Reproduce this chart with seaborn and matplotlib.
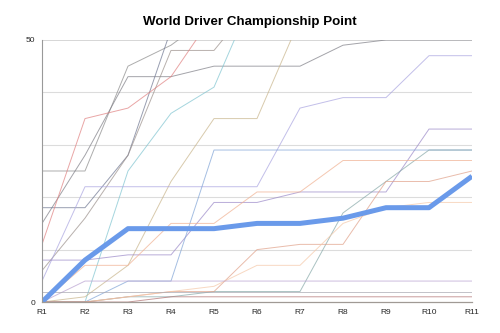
import matplotlib
matplotlib.use("Agg")
import matplotlib.pyplot as plt
import seaborn as sns
import pandas as pd

rounds = ["R1", "R2", "R3", "R4", "R5", "R6", "R7", "R8", "R9", "R10", "R11"]

highlight = [0, 8, 14, 14, 14, 15, 15, 16, 18, 18, 24]

d_gray_a = [25, 25, 45, 49, 55, 61, 67, 73, 79, 85, 91]
d_gray_b = [15, 28, 43, 43, 45, 45, 45, 49, 50, 50, 50]
d_slate = [18, 18, 28, 52, 60, 68, 76, 84, 92, 100, 108]
d_gray_c = [6, 16, 28, 48, 48, 58, 66, 74, 82, 90, 98]
d_red = [11, 35, 37, 43, 55, 62, 70, 78, 86, 94, 100]
d_teal = [0, 0, 25, 36, 41, 60, 70, 80, 90, 100, 110]
d_tan = [0, 1, 7, 23, 35, 35, 54, 60, 66, 72, 78]
d_lavender = [4, 22, 22, 22, 22, 22, 37, 39, 39, 47, 47]
d_purple = [8, 8, 9, 9, 19, 19, 21, 21, 21, 33, 33]
d_blue = [0, 0, 4, 4, 29, 29, 29, 29, 29, 29, 29]
d_tealgray = [0, 0, 1, 1, 2, 2, 2, 17, 23, 29, 29]
d_orange = [0, 7, 7, 15, 15, 21, 21, 27, 27, 27, 27]
d_orangered = [0, 0, 1, 2, 2, 10, 11, 11, 23, 23, 25]
d_peach = [0, 0, 1, 2, 3, 7, 7, 15, 18, 19, 19]
d_violet = [0, 4, 4, 4, 4, 4, 4, 4, 4, 4, 4]
d_flatgray = [2, 2, 2, 2, 2, 2, 2, 2, 2, 2, 2]
d_maroon = [0, 0, 0, 1, 1, 1, 1, 1, 1, 1, 1]

series = {
    "gray_a": (d_gray_a, "#8a8a8a"),
    "gray_b": (d_gray_b, "#7d7d85"),
    "slate": (d_slate, "#6d7590"),
    "gray_c": (d_gray_c, "#9a8f8a"),
    "red": (d_red, "#e08080"),
    "teal": (d_teal, "#7fc4d0"),
    "tan": (d_tan, "#c8b48a"),
    "lavender": (d_lavender, "#a9a4e0"),
    "purple": (d_purple, "#9a88c8"),
    "blue": (d_blue, "#7fa3d6"),
    "tealgray": (d_tealgray, "#86a8a8"),
    "orange": (d_orange, "#f0b090"),
    "orangered": (d_orangered, "#e0a088"),
    "peach": (d_peach, "#f5c8a8"),
    "violet": (d_violet, "#b8a0d0"),
    "flatgray": (d_flatgray, "#a8a8b0"),
    "maroon": (d_maroon, "#b07070"),
}

rows = []
for name, (vals, _) in series.items():
    for i, v in enumerate(vals):
        rows.append({"driver": name, "x": i, "points": v})
df = pd.DataFrame(rows)
palette = {name: c for name, (_, c) in series.items()}

hl = pd.DataFrame({"x": list(range(len(rounds))), "points": highlight})

sns.set_style("white")
plt.rcParams["font.family"] = ["Liberation Sans", "DejaVu Sans"]

fig = plt.figure(figsize=(5, 3.33), dpi=100)
ax = fig.add_axes([0.084, 0.093, 0.86, 0.787])

for y in [10, 20, 30, 40]:
    ax.axhline(y, color="#dcdcdc", lw=0.8, zorder=0)
ax.axhline(50, color="#cfcfcf", lw=1.2, zorder=0)

sns.lineplot(data=df, x="x", y="points", hue="driver", palette=palette,
             linewidth=0.7, alpha=0.7, legend=False, ax=ax, estimator=None)
sns.lineplot(data=hl, x="x", y="points", color="#6a9aea",
             linewidth=3.6, ax=ax, estimator=None, solid_capstyle="butt")

ax.set_xlim(0, len(rounds) - 1)
ax.set_ylim(0, 50)
ax.set_xticks(range(len(rounds)))
ax.set_xticklabels(rounds, fontsize=6)
ax.set_yticks([0, 50])
ax.set_yticklabels(["0", "50"], fontsize=6)
ax.tick_params(length=0, pad=5)
ax.set_xlabel("")
ax.set_ylabel("")
for s in ["top", "right"]:
    ax.spines[s].set_visible(False)
ax.spines["left"].set_color("#999999")
ax.spines["bottom"].set_color("#a09a95")
ax.spines["left"].set_linewidth(0.8)
ax.spines["bottom"].set_linewidth(0.9)

fig.text(0.5, 0.935, "World Driver Championship Point", ha="center",
         va="center", fontsize=9.6, fontweight="bold", color="black")

fig.savefig("out.png", dpi=100)
